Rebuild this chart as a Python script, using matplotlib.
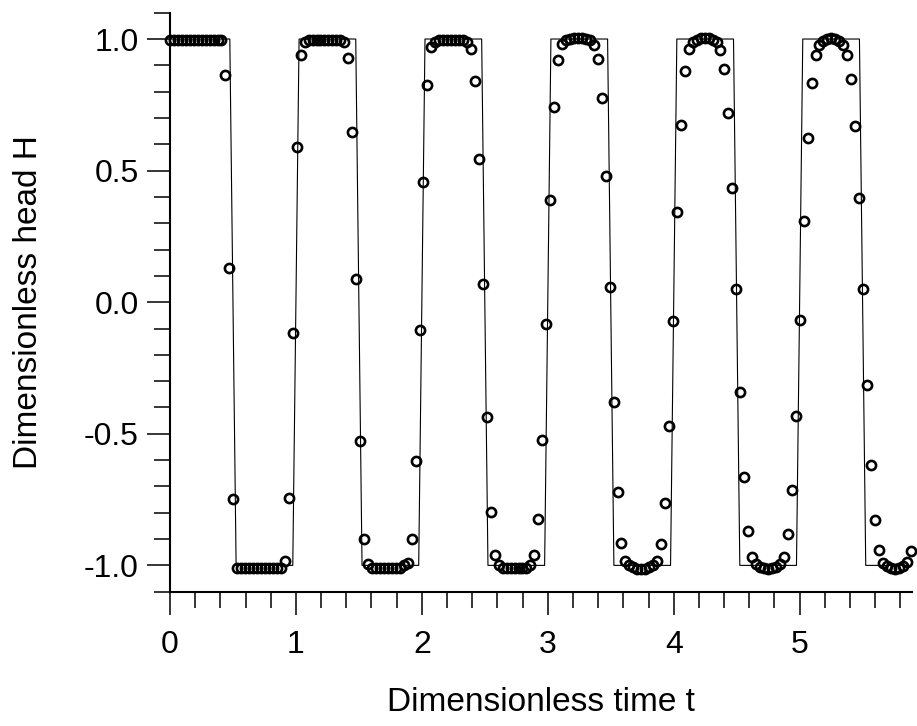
import numpy as np
import matplotlib.pyplot as plt

plt.rcParams['font.family'] = ['Liberation Sans', 'DejaVu Sans']

# Square-wave boundary condition (corner points of the thin line)
line_t = [0, 0.475, 0.525, 0.975, 1.025, 1.475, 1.525, 1.975, 2.025, 2.475, 2.525,
          2.975, 3.025, 3.475, 3.525, 3.975, 4.025, 4.475, 4.525, 4.975, 5.025,
          5.475, 5.525, 5.875]
line_h = [1, 1, -1, -1, 1, 1, -1, -1, 1, 1, -1,
          -1, 1, 1, -1, -1, 1, 1, -1, -1, 1,
          1, -1, -1]

# Numerical solution, sampled every dt
dt = 0.03145
h_cycle0 = [0.995] * 14 + [0.864, 0.129, -0.747] + [-1.009] * 12 + [-0.985, -0.744, -0.116]
h_cycle1 = [0.591, 0.940, 0.990] + [0.997] * 9 + [0.990, 0.928, 0.647, 0.087, -0.527, -0.898, -0.995] \
    + [-1.010] * 8 + [-1.000, -0.990, -0.900, -0.603, -0.106]
h_cycle2 = [0.458, 0.826, 0.968, 0.990] + [0.997] * 7 + [0.990, 0.962, 0.842, 0.543, 0.069, -0.436,
                                                          -0.798, -0.962, -0.998] \
    + [-1.010] * 7 + [-0.998, -0.960, -0.823, -0.525, -0.081]
h_cycle3 = [0.389, 0.741, 0.921, 0.982, 0.995, 1.0, 1.002, 1.003, 1.002, 1.0, 0.995,
            0.978, 0.925, 0.774, 0.480, 0.059, -0.379, -0.723, -0.914, -0.985, -1.000,
            -1.008, -1.012, -1.013, -1.012, -1.008, -1.000, -0.984, -0.920, -0.762, -0.471, -0.073]
h_cycle4 = [0.342, 0.674, 0.877, 0.963, 0.987, 0.997, 1.002, 1.003, 1.002, 0.997, 0.987,
            0.959, 0.886, 0.718, 0.433, 0.052, -0.341, -0.666, -0.870, -0.967,
            -0.993, -1.005, -1.010, -1.012, -1.010, -1.005, -0.993,
            -0.967, -0.882, -0.712, -0.431, -0.068]
h_cycle5 = [0.310, 0.624, 0.834, 0.940, 0.978, 0.993, 1.0, 1.002, 1.0, 0.993,
            0.978, 0.940, 0.849, 0.671, 0.396, 0.049, -0.313, -0.620, -0.829, -0.943, -0.990,
            -1.003, -1.010, -1.012, -1.010, -1.003, -0.988, -0.946]
h_num = h_cycle0 + h_cycle1 + h_cycle2 + h_cycle3 + h_cycle4 + h_cycle5
t_num = np.arange(len(h_num)) * dt

x_major = [0, 1, 2, 3, 4, 5]
y_major = [-1.0, -0.5, 0.0, 0.5, 1.0]

fig = plt.figure(figsize=(9.17, 7.26), dpi=100)
ax = fig.add_axes([170 / 917, 1 - 591.7 / 726, (911.7 - 170) / 917, (591.7 - 12.7) / 726])

ax.plot(line_t, line_h, color='black', lw=0.8)
ax.plot(t_num, h_num, 'o', mfc='none', mec='black', ms=6.6, mew=1.9, clip_on=False)

ax.set_xlim(0, 5.89)
ax.set_ylim(-1.1, 1.1)

for side in ['top', 'right']:
    ax.spines[side].set_visible(False)
for side in ['left', 'bottom']:
    ax.spines[side].set_linewidth(1.5)

ax.set_xticks(x_major)
ax.set_xticklabels([str(v) for v in x_major])
ax.set_xticks(np.arange(0, 5.85, 0.2), minor=True)
ax.set_yticks(y_major)
ax.set_yticklabels(['%.1f' % v for v in y_major])
ax.set_yticks(np.arange(-1.1, 1.15, 0.1), minor=True)

ax.tick_params(which='major', direction='out', length=16.5, width=1.1, labelsize=23)
ax.tick_params(which='minor', direction='out', length=11.5, width=1.1)
ax.tick_params(axis='x', which='major', pad=11)
ax.tick_params(axis='y', which='major', pad=6)

ax.set_xlabel('Dimensionless time t', fontsize=24)
ax.set_ylabel('Dimensionless head H', fontsize=24)
ax.xaxis.set_label_coords(0.5, -0.165)
ax.yaxis.set_label_coords(-0.17, 0.5)

fig.savefig('out.png', dpi=100)
